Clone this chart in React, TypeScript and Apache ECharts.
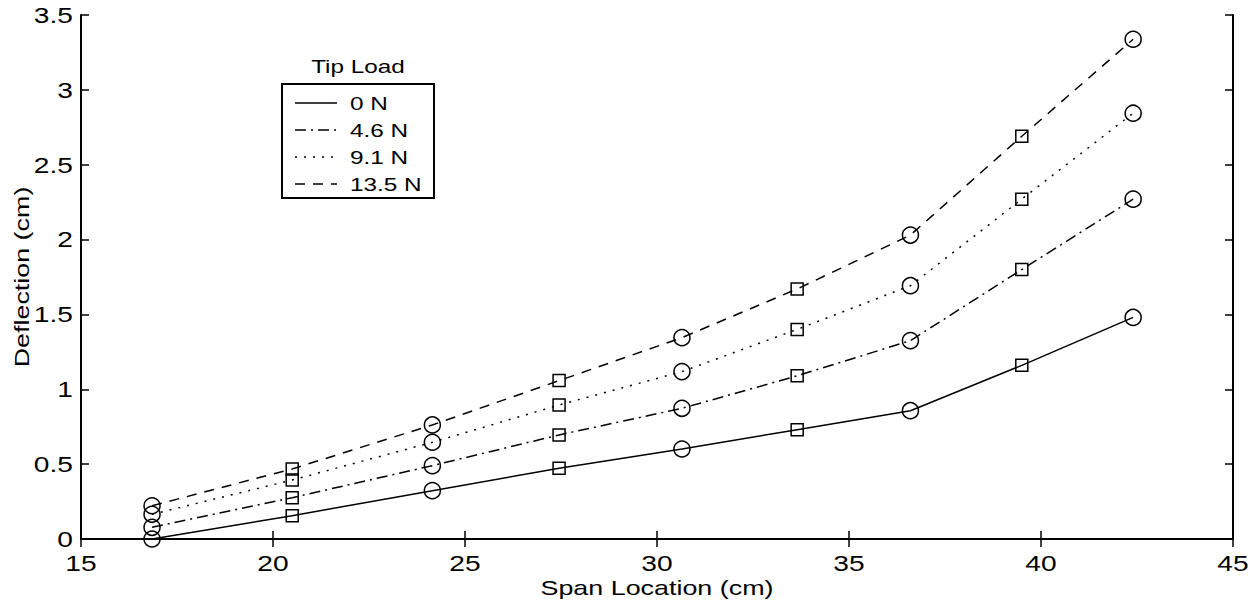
import React, { useEffect, useRef } from "react";
import * as echarts from "echarts";

const spanLocations = [16.85, 20.5, 24.15, 27.45, 30.65, 33.65, 36.6, 39.5, 42.4];
const markerShapes = ["circle", "rect", "circle", "rect", "circle", "rect", "circle", "rect", "circle"];
const load0N = [0, 0.156, 0.323, 0.472, 0.601, 0.73, 0.857, 1.16, 1.48];
const load46N = [0.078, 0.276, 0.49, 0.695, 0.873, 1.09, 1.325, 1.8, 2.27];
const load91N = [0.165, 0.394, 0.646, 0.895, 1.118, 1.4, 1.692, 2.27, 2.844];
const load135N = [0.222, 0.468, 0.762, 1.058, 1.345, 1.67, 2.03, 2.69, 3.338];
const seriesNames = ["0 N", "4.6 N", "9.1 N", "13.5 N"];
const xTickValues = [15, 20, 25, 30, 35, 40, 45];
const yTickValues = [0, 0.5, 1, 1.5, 2, 2.5, 3, 3.5];
const xTickLabels = ["15", "20", "25", "30", "35", "40", "45"];
const yTickLabels = ["0", "0.5", "1", "1.5", "2", "2.5", "3", "3.5"];
const xAxisTitle = "Span Location (cm)";
const yAxisTitle = "Deflection (cm)";
const legendTitle = "Tip Load";

const FONT = "'Liberation Sans', Arial, Helvetica, sans-serif";
const WIDE = 1.28; // horizontal stretch of the scanned lettering
const dashes: (number[] | "solid")[] = ["solid", [11, 5, 2, 5], [2, 7], [10, 8]];

export default function App() {
  const ref = useRef<HTMLDivElement>(null);
  useEffect(() => {
    if (!ref.current) return;
    const chart = echarts.init(ref.current, null, { renderer: "svg" });
    const allLoads = [load0N, load46N, load91N, load135N];
    const series = allLoads.map((vals, si) => ({
      name: seriesNames[si],
      type: "line",
      xAxisIndex: 0,
      yAxisIndex: 0,
      data: spanLocations.map((x, i) => ({
        value: [x, vals[i]],
        symbol: markerShapes[i],
        symbolSize: markerShapes[i] === "circle" ? 16 : 12,
      })),
      showAllSymbol: true,
      lineStyle: { color: "#000", width: 1.5, type: dashes[si] },
      itemStyle: { color: "rgba(255,255,255,0)", borderColor: "#000", borderWidth: 1.5 },
      z: 3,
    }));

    const axisCommon = {
      axisLine: { show: true, lineStyle: { color: "#000", width: 2 } },
      axisTick: { show: true, inside: true, length: 8, lineStyle: { color: "#000", width: 1.5 } },
      axisLabel: { show: false },
      splitLine: { show: false },
    };
    const xRange = { min: 15, max: 45, interval: 5 };
    const yRange = { min: 0, max: 3.5, interval: 0.5 };

    chart.setOption({
      animation: false,
      textStyle: { fontFamily: FONT },
      grid: { left: 81, right: 18, top: 15, bottom: 67, containLabel: false },
      xAxis: [
        { type: "value", ...xRange, position: "bottom", ...axisCommon },
        { type: "value", ...xRange, position: "top", ...axisCommon },
      ],
      yAxis: [
        { type: "value", ...yRange, position: "left", ...axisCommon },
        { type: "value", ...yRange, position: "right", ...axisCommon },
      ],
      series,
    });

    const textStyle = (text: string, size: number, align: string) => ({
      text,
      font: `${size}px ${FONT}`,
      fill: "#000",
      align,
      verticalAlign: "middle",
    });

    const graphics: any[] = [];
    const x0 = chart.convertToPixel({ xAxisIndex: 0 }, 15) as number;
    const x1 = chart.convertToPixel({ xAxisIndex: 0 }, 45) as number;
    const yBottom = chart.convertToPixel({ yAxisIndex: 0 }, 0) as number;
    const yTop = chart.convertToPixel({ yAxisIndex: 0 }, 3.5) as number;

    xTickValues.forEach((v, i) => {
      graphics.push({
        type: "text",
        x: chart.convertToPixel({ xAxisIndex: 0 }, v),
        y: yBottom + 24,
        scaleX: WIDE,
        style: textStyle(xTickLabels[i], 22, "center"),
      });
    });
    yTickValues.forEach((v, i) => {
      graphics.push({
        type: "text",
        x: x0 - 8,
        y: chart.convertToPixel({ yAxisIndex: 0 }, v),
        scaleX: WIDE,
        style: textStyle(yTickLabels[i], 22, "right"),
      });
    });
    graphics.push({
      type: "text",
      x: (x0 + x1) / 2,
      y: yBottom + 49,
      scaleX: WIDE,
      style: textStyle(xAxisTitle, 21, "center"),
    });
    graphics.push({
      type: "text",
      x: 22,
      y: (yTop + yBottom) / 2,
      rotation: Math.PI / 2,
      scaleX: WIDE,
      style: textStyle(yAxisTitle, 21, "center"),
    });

    // legend
    const rowYs = [103, 130, 157, 184];
    graphics.push({
      type: "rect",
      shape: { x: 282, y: 84, width: 152, height: 114 },
      style: { fill: "#fff", stroke: "#000", lineWidth: 2 },
      z: 10,
    });
    graphics.push({
      type: "text",
      x: 358,
      y: 66,
      scaleX: WIDE,
      style: textStyle(legendTitle, 19, "center"),
      z: 11,
    });
    seriesNames.forEach((n, i) => {
      graphics.push({
        type: "line",
        shape: { x1: 295, y1: rowYs[i], x2: 337, y2: rowYs[i] },
        style: { stroke: "#000", lineWidth: 1.5, lineDash: dashes[i] === "solid" ? null : dashes[i] },
        z: 11,
      });
      graphics.push({
        type: "text",
        x: 350,
        y: rowYs[i],
        scaleX: WIDE,
        style: textStyle(n, 19, "left"),
        z: 11,
      });
    });

    chart.setOption({ graphic: graphics });
    return () => chart.dispose();
  }, []);
  return (
    <div
      ref={ref}
      style={{ position: "fixed", left: 0, top: 0, width: 1251, height: 606, background: "#fff" }}
    />
  );
}
